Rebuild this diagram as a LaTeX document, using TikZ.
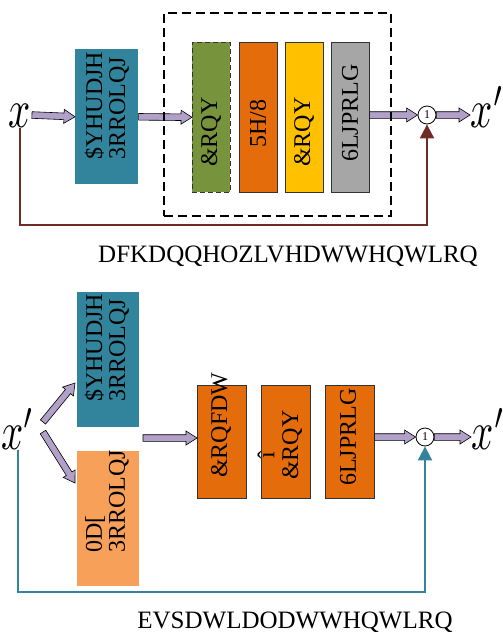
\documentclass[tikz,border=0pt]{standalone}
\usepackage{fontspec}
\setmainfont{Liberation Serif}
\usetikzlibrary{arrows.meta,calc}
\definecolor{tealb}{HTML}{31849B}
\definecolor{greenb}{HTML}{77933C}
\definecolor{orangeb}{HTML}{E46C0A}
\definecolor{yellowb}{HTML}{FFC000}
\definecolor{grayb}{HTML}{A6A6A6}
\definecolor{peachb}{HTML}{F6A05A}
\definecolor{lav}{HTML}{B1A0C7}
\definecolor{fbred}{HTML}{6E2B27}
\newcommand\fatarr[2]{%
  \coordinate (fah) at ($(#2)!11pt!(#1)$);
  \draw[fill=lav,draw=black,line width=0.6pt,line join=miter]
    ($(#1)!3.3pt!90:(#2)$) -- ($(fah)!3.3pt!90:(#2)$) -- ($(fah)!7pt!90:(#2)$) -- (#2)
    -- ($(fah)!7pt!-90:(#2)$) -- ($(fah)!3.3pt!-90:(#2)$) -- ($(#1)!3.3pt!-90:(#2)$) -- cycle;}
\begin{document}
\begin{tikzpicture}[x=1pt,y=-1pt,
  blk/.style={rectangle,inner sep=0pt,anchor=north west,line width=0.6pt},
  btxt/.style={rotate=90,anchor=west,inner sep=0pt,align=left,font=\fontsize{24}{23}\selectfont},
  xlab/.style={inner sep=0pt,font=\normalsize,text height=1ex,text depth=0pt,xscale=3.9,yscale=5.4},
  mult/.style={circle,draw=black,fill=white,minimum size=18pt,inner sep=0pt,line width=0.8pt,font=\fontsize{12}{12}\selectfont},
  fb/.style={line width=2pt,-{Triangle[length=14pt,width=14pt]}},
  captext/.style={inner sep=0pt,font=\fontsize{25}{25}\selectfont}]
\useasboundingbox[fill=white] (0,0) rectangle (503,638);

% ---------- top: channel attention ----------
\node[xlab] (x1) at (20,115) {$x$};
\node[blk,fill=tealb,minimum width=63pt,minimum height=135pt] (avg1) at (75,49) {};
\node[btxt] (tavg1) at (107,160) {\$YHUDJH\\3RROLQJ};
\node[blk,fill=greenb,draw=black!80,dash pattern=on 5pt off 3pt,minimum width=38pt,minimum height=150pt] (conv1) at (192,42) {};
\node[blk,fill=orangeb,draw=black!80,minimum width=38pt,minimum height=150pt] (relu1) at (239,42) {};
\node[blk,fill=yellowb,draw=black!80,minimum width=38pt,minimum height=150pt] (conv1b) at (285,42) {};
\node[blk,fill=grayb,draw=black!80,minimum width=38pt,minimum height=150pt] (sig1) at (331,42) {};
\node[btxt] (tconv1) at (211,167) {\&RQY};
\node[btxt] (trelu1) at (258,148) {5H/8};
\node[btxt] (tconv1b) at (304,167) {\&RQY};
\node[btxt] (tsig1) at (350,162) {6LJPRLG};
\node[mult] (m1) at (427,115) {1};
\node[xlab,anchor=west] (xo1) at (470,115) {$x'$};

\fatarr{x1.east}{avg1.west}
\fatarr{avg1.east}{conv1.west}
\fatarr{sig1.east |- m1.west}{m1.west}
\fatarr{m1.east}{xo1.west}
\coordinate (fbc1) at (200,225);
\draw[fb,fbred] (x1.south) |- (fbc1) -| (m1.south);
\node[blk,draw=black,line width=1.6pt,dash pattern=on 9pt off 5pt,minimum width=227pt,minimum height=203pt] (dbox) at (163,12) {};
\node[captext] (cap1) at (288,256) {DFKDQQHOZLVHDWWHQWLRQ};

% ---------- bottom: spatial attention ----------
\node[xlab] (xi2) at (18,437) {$x'$};
\node[blk,fill=tealb,minimum width=62pt,minimum height=135pt] (avg2) at (77,292) {};
\node[blk,fill=peachb,minimum width=62pt,minimum height=135pt] (max2) at (77,451) {};
\node[btxt] (tavg2) at (107,402) {\$YHUDJH\\3RROLQJ};
\node[btxt] (tmax2) at (107,553) {0D[\\3RROLQJ};
\node[blk,fill=orangeb,draw=black!80,minimum width=49pt,minimum height=113pt] (cat2) at (197,385) {};
\node[blk,fill=orangeb,draw=black!80,minimum width=49pt,minimum height=113pt] (conv2) at (261,385) {};
\node[blk,fill=orangeb,draw=black!80,minimum width=49pt,minimum height=113pt] (sig2) at (325,385) {};
\node[btxt] (tcat2) at (221,478) {\&RQFDW};
\node[btxt,anchor=center] (tconv2a) at (266,455) {î};
\node[btxt] (tconv2) at (292,480) {\&RQY};
\node[btxt] (tsig2) at (348,486) {6LJPRLG};
\node[mult] (m2) at (425,437) {1};
\node[xlab,anchor=west] (xo2) at (471,437) {$x'$};

\coordinate (d1s) at (43,422);
\coordinate (d1e) at (75,383);
\coordinate (d2s) at (43,432);
\coordinate (d2e) at (75,483);
\coordinate (cs) at (143,438);
\fatarr{d1s}{d1e}
\fatarr{d2s}{d2e}
\fatarr{cs}{cs -| cat2.west}
\fatarr{sig2.east |- m2.west}{m2.west}
\fatarr{m2.east}{xo2.west}
\coordinate (fbc2) at (200,592);
\draw[fb,tealb] (xi2.south) |- (fbc2) -| (m2.south);
\node[captext] (cap2) at (295,622) {EVSDWLDODWWHQWLRQ};
\end{tikzpicture}
\end{document}
